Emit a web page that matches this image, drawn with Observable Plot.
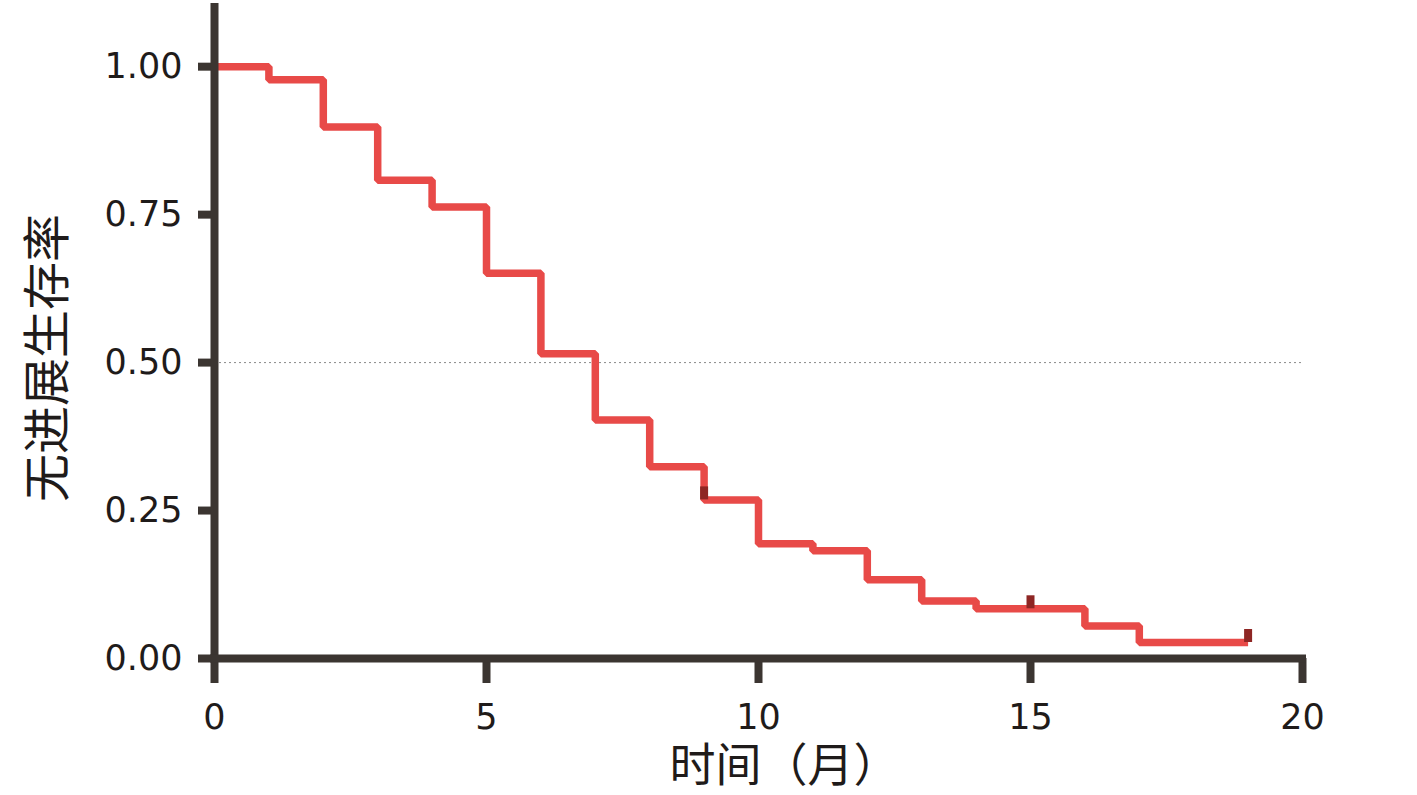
<!DOCTYPE html>
<html>
<head>
<meta charset="utf-8">
<script src="https://cdn.jsdelivr.net/npm/d3@7"></script>
<script src="https://cdn.jsdelivr.net/npm/@observablehq/plot@0.6"></script>
<style>
  html, body { margin: 0; padding: 0; background: #ffffff; }
  #chart svg { display: block; }
</style>
</head>
<body>
<div id="chart"></div>
<script>
// Kaplan–Meier step data (time in months, survival probability)
const times = [0, 1, 2, 3, 4, 5, 6, 7, 8, 9, 10, 11, 12, 13, 14, 16, 17, 19];
const surv  = [1.00, 0.978, 0.898, 0.808, 0.763, 0.651, 0.515, 0.403, 0.324, 0.268, 0.194, 0.182, 0.133, 0.097, 0.084, 0.055, 0.027, 0.027];
// censored observations
const censorTimes = [9, 15, 19];
const censorSurv  = [0.268, 0.084, 0.027];
// axes
const xTicks = [0, 5, 10, 15, 20];
const yTicks = [0, 0.25, 0.5, 0.75, 1.0];
const xTitle = "时间（月）";
const yTitle = "无进展生存率";
const medianLine = [0.5];

const steps = times.map((t, i) => ({time: t, surv: surv[i]}));
const censors = censorTimes.map((t, i) => ({time: t, surv: censorSurv[i]}));

const axisColor = "#3b3531";
const textColor = "#1f1b1a";
const lineColor = "#e84a48";
const censorColor = "#8e2624";
const latin = "DejaVu Sans, sans-serif";
const cjk = "'Noto Sans CJK SC', sans-serif";

const chart = Plot.plot({
  width: 1417,
  height: 795,
  marginLeft: 214,
  marginRight: 115,
  marginTop: 7,
  marginBottom: 137,
  style: {background: "#ffffff", fontFamily: latin},
  x: {domain: [0, 20], axis: null},
  y: {domain: [0, 1.1], axis: null},
  marks: [
    Plot.ruleY(medianLine, {stroke: "#8a8a8a", strokeWidth: 1, strokeDasharray: "2,3"}),
    Plot.line(steps, {x: "time", y: "surv", curve: "step-after", stroke: lineColor, strokeWidth: 7.5, strokeLinejoin: "miter", strokeLinecap: "butt"}),
    Plot.ruleX(censors, {x: "time", y1: "surv", y2: "surv", stroke: censorColor, strokeWidth: 8, insetTop: -13, insetBottom: 0}),
    Plot.axisY(yTicks, {tickSize: 16, tickPadding: 16, strokeWidth: 8, stroke: axisColor, fill: textColor, fontSize: 35, fontFamily: latin, tickFormat: d3.format(".2f"), label: null}),
    Plot.axisX(xTicks, {tickSize: 25, tickPadding: 21, strokeWidth: 8, stroke: axisColor, fill: textColor, fontSize: 35, fontFamily: latin, tickFormat: d3.format("d"), label: null}),
    Plot.ruleX([0], {stroke: axisColor, strokeWidth: 8, strokeLinecap: "square"}),
    Plot.ruleY([0], {stroke: axisColor, strokeWidth: 8, strokeLinecap: "square"}),
    Plot.text([xTitle], {frameAnchor: "bottom", dx: 26, dy: 122, text: d => d, textAnchor: "middle", fontSize: 46, fontFamily: cjk, fill: textColor}),
    Plot.text([yTitle], {frameAnchor: "left", dx: -166, dy: 25, rotate: -90, text: d => d, textAnchor: "middle", fontSize: 48, fontFamily: cjk, fill: textColor})
  ]
});
document.getElementById("chart").appendChild(chart);
</script>
</body>
</html>
